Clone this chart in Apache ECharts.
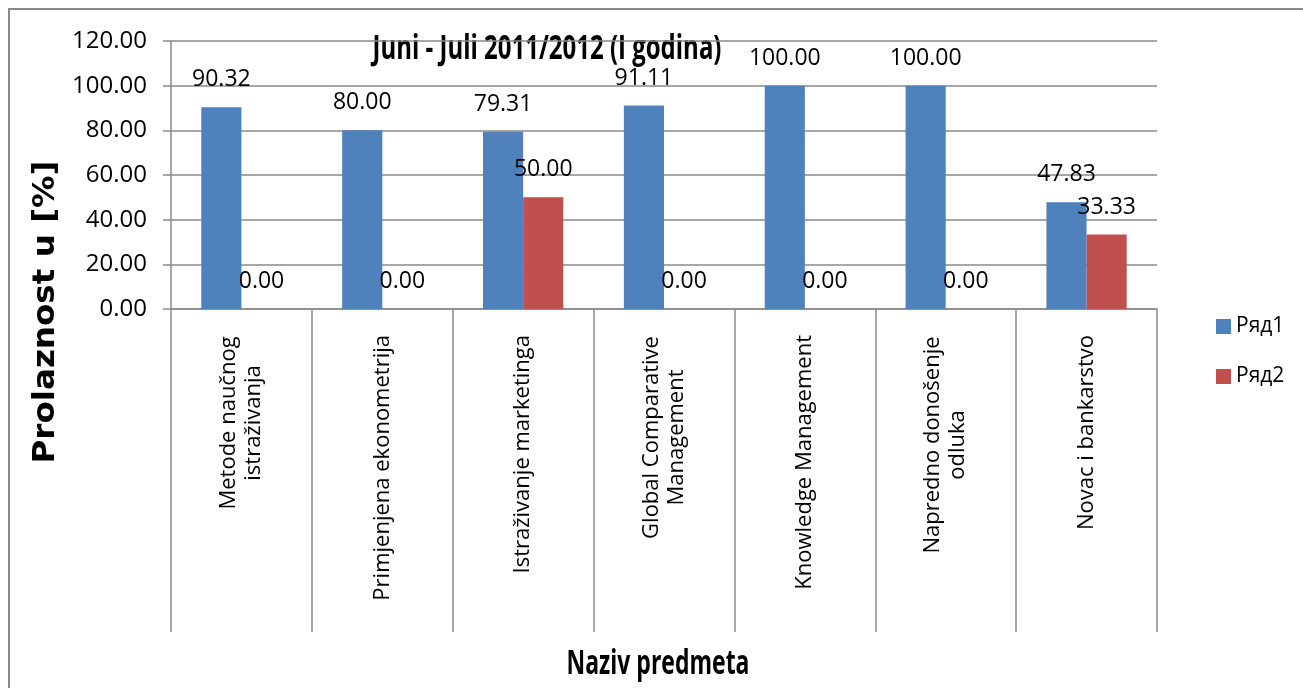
<!DOCTYPE html>
<html>
<head>
<meta charset="utf-8">
<title>Prolaznost</title>
<script src="https://cdn.jsdelivr.net/npm/echarts@6/dist/echarts.min.js"></script>
<style>
  html, body { margin: 0; padding: 0; background: #fff; }
  #chart { width: 1303px; height: 688px; }
</style>
</head>
<body>
<div id="chart"></div>
<script>
// nazivi predmeta (kategorije)
var categories = [
  "Metode naučnog\nistraživanja",
  "Primjenjena ekonometrija",
  "Istraživanje marketinga",
  "Global Comparative\nManagement",
  "Knowledge Management",
  "Napredno donošenje\nodluka",
  "Novac i bankarstvo"
];
var ryad1 = [90.32, 80.00, 79.31, 91.11, 100.00, 100.00, 47.83];
var ryad2 = [0.00, 0.00, 50.00, 0.00, 0.00, 0.00, 33.33];
var seriesNames = ["Ряд1", "Ряд2"];
var yTicks = [0, 20, 40, 60, 80, 100, 120];

var titleText = "Juni - Juli 2011/2012 (I godina)";
var xName = "Naziv predmeta";
var yName = "Prolaznost u [%]";

var labelFont = '"Open Sans", "DejaVu Sans", sans-serif';
var headFont = 'bold 34px "Open Sans", sans-serif';
var yNameFont = 'bold 30px "DejaVu Sans", sans-serif';

var ctx = document.createElement("canvas").getContext("2d");
function textWidth(t, font) {
  ctx.font = font;
  return ctx.measureText(t).width;
}

// sirina duzeg reda za labele u dva reda (centriranje redova)
var rich = {};
categories.forEach(function (c, i) {
  var w = 0;
  c.split("\n").forEach(function (l) { w = Math.max(w, textWidth(l, '22px ' + labelFont)); });
  rich["r" + i] = { width: Math.ceil(w) + 2, align: "center", fontSize: 22, lineHeight: 25, color: "#000", fontFamily: labelFont };
});

// uski (condensed) naslovi - sabijanje po sirini
var titleScale = 349 / textWidth(titleText, headFont);
var xNameScale = 183 / textWidth(xName, headFont);
var yNameScale = 303 / textWidth(yName, yNameFont);

var gray = "#8a8a8a";

var option = {
  animation: false,
  backgroundColor: "#fff",
  legend: {
    data: seriesNames,
    orient: "vertical",
    left: 1211,
    top: 311,
    icon: "rect",
    itemWidth: 15,
    itemHeight: 15,
    itemGap: 29,
    textStyle: { fontFamily: labelFont, fontSize: 21, color: "#000" }
  },
  grid: { left: 171, right: 146, top: 41, bottom: 379 },
  xAxis: {
    type: "category",
    data: categories,
    axisLine: { show: true, lineStyle: { color: gray, width: 1.5 } },
    axisTick: { show: true, interval: 0, length: 323, lineStyle: { color: gray, width: 1.5 } },
    axisLabel: {
      interval: 0,
      rotate: 90,
      margin: 26,
      fontSize: 22,
      fontFamily: labelFont,
      color: "#000",
      lineHeight: 25,
      formatter: function (v, i) {
        var lines = v.split("\n");
        if (lines.length < 2) return v;
        return lines.map(function (l) { return "{r" + i + "|" + l + "}"; }).join("\n");
      },
      rich: rich
    }
  },
  yAxis: {
    type: "value",
    min: yTicks[0],
    max: yTicks[yTicks.length - 1],
    interval: 20,
    axisLine: { show: true, lineStyle: { color: gray, width: 1.5 } },
    axisTick: { show: true, length: 8, lineStyle: { color: gray, width: 1.5 } },
    splitLine: { show: true, lineStyle: { color: gray, width: 1.5 } },
    axisLabel: {
      margin: 24,
      fontSize: 24,
      fontFamily: labelFont,
      color: "#000",
      formatter: function (v) { return v.toFixed(2); }
    }
  },
  graphic: [
    {
      type: "rect",
      shape: { x: 9, y: 9, width: 1310, height: 700 },
      style: { fill: null, stroke: gray, lineWidth: 2 },
      silent: true
    },
    {
      type: "text",
      x: 547,
      y: 49,
      scaleX: titleScale,
      style: { text: titleText, font: headFont, fill: "#000", align: "center", verticalAlign: "middle" }
    },
    {
      type: "text",
      x: 658,
      y: 664,
      scaleX: xNameScale,
      style: { text: xName, font: headFont, fill: "#000", align: "center", verticalAlign: "middle" }
    },
    {
      type: "text",
      x: 46,
      y: 312,
      rotation: Math.PI / 2,
      scaleX: yNameScale,
      style: { text: yName, font: yNameFont, fill: "#000", align: "center", verticalAlign: "middle" }
    }
  ],
  series: [
    {
      name: seriesNames[0],
      type: "bar",
      data: ryad1,
      barGap: 0,
      barCategoryGap: "43%",
      itemStyle: { color: "#4F81BD" },
      label: {
        show: true,
        position: "top",
        distance: 16,
        fontSize: 23,
        fontFamily: labelFont,
        color: "#000",
        formatter: function (p) { return p.value.toFixed(2); }
      }
    },
    {
      name: seriesNames[1],
      type: "bar",
      data: ryad2,
      itemStyle: { color: "#C0504D" },
      label: {
        show: true,
        position: "top",
        distance: 16,
        fontSize: 23,
        fontFamily: labelFont,
        color: "#000",
        formatter: function (p) { return p.value.toFixed(2); }
      }
    }
  ]
};

var myChart = echarts.init(document.getElementById("chart"));
myChart.setOption(option);
window.addEventListener("resize", function () { myChart.resize(); });
</script>
</body>
</html>
